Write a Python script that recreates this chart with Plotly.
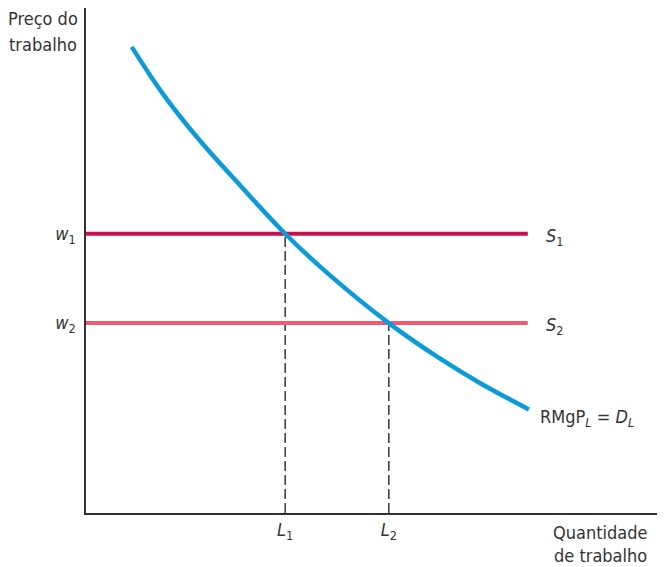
import plotly.graph_objects as go

# data (abstract units 0-100)
demand_x = [7.9, 13.4, 19.7, 26.6, 34.4, 42.1, 52.3, 61.1, 68.1, 76.5]
demand_y = [92.3, 82.8, 73.7, 64.9, 55.3, 47.1, 37.6, 30.6, 25.7, 20.5]
wage_levels = [55.3, 37.6]
supply_end = 76.3
labor_levels = [34.4, 52.3]
x_ticklabels = ["<i>L</i><sub>1</sub>", "<i>L</i><sub>2</sub>"]
y_ticklabels = ["<i>w</i><sub>1</sub>", "<i>w</i><sub>2</sub>"]
supply_labels = ["<i>S</i><sub>1</sub>", "<i>S</i><sub>2</sub>"]
supply_colors = ["#c8104e", "#f05a72"]

FONT = "DejaVu Sans Condensed, Liberation Sans Narrow, Arial Narrow, sans-serif"
TXT = "#333333"
FS = 18

fig = go.Figure()

# dashed verticals
for lx, wy in zip(labor_levels, wage_levels):
    fig.add_trace(go.Scatter(x=[lx, lx], y=[0, wy], mode="lines",
                             line=dict(color="#444444", width=1.6, dash="10px,4px"),
                             hoverinfo="skip", showlegend=False))

# supply lines
for wy, col, lab in zip(wage_levels, supply_colors, supply_labels):
    fig.add_trace(go.Scatter(x=[0, supply_end], y=[wy, wy], mode="lines",
                             line=dict(color=col, width=4),
                             showlegend=False))
    fig.add_annotation(x=supply_end, y=wy, text=lab, showarrow=False,
                       xanchor="left", xshift=16, yshift=-3,
                       font=dict(family=FONT, size=FS, color=TXT))

# demand curve
fig.add_trace(go.Scatter(x=demand_x, y=demand_y, mode="lines",
                         line=dict(color="#0c9bd9", width=4.5, shape="spline", smoothing=1.0),
                         showlegend=False))
fig.add_annotation(x=demand_x[-1], y=demand_y[-1], text="RMgP<sub><i>L</i></sub> = <i>D</i><sub><i>L</i></sub>",
                   showarrow=False, xanchor="left", xshift=9, yshift=-9,
                   font=dict(family=FONT, size=FS, color=TXT))

# axis titles (page has 8px body margin; plot area spans page y 8..513)
for txt, yy in [("Preço do", 18), ("trabalho", 45)]:
    fig.add_annotation(xref="paper", yref="paper", x=(43 - 86) / 579, y=(513 - yy) / 505,
                       text=txt, showarrow=False, xanchor="center", yanchor="middle",
                       font=dict(family=FONT, size=FS, color=TXT))
for txt, yy in [("Quantidade", 532), ("de trabalho", 555)]:
    fig.add_annotation(xref="paper", yref="paper", x=(600 - 86) / 579, y=(513 - yy) / 505,
                       text=txt, showarrow=False, xanchor="center", yanchor="middle",
                       font=dict(family=FONT, size=FS, color=TXT))

fig.update_layout(
    width=657, height=559,
    margin=dict(l=78, r=0, t=0, b=54),
    paper_bgcolor="white", plot_bgcolor="white",
    xaxis=dict(range=[0, 100], showgrid=False, zeroline=False, showline=True,
               linecolor="#333333", linewidth=1.5, automargin=False,
               tickvals=labor_levels, ticktext=x_ticklabels, ticks="",
               tickfont=dict(family=FONT, size=FS, color=TXT)),
    yaxis=dict(range=[0, 100], showgrid=False, zeroline=False, showline=True,
               linecolor="#333333", linewidth=1.5, automargin=False,
               tickvals=wage_levels, ticktext=y_ticklabels, ticks="",
               ticklabelstandoff=5,
               tickfont=dict(family=FONT, size=FS, color=TXT)),
)

fig.write_html("out.html")
